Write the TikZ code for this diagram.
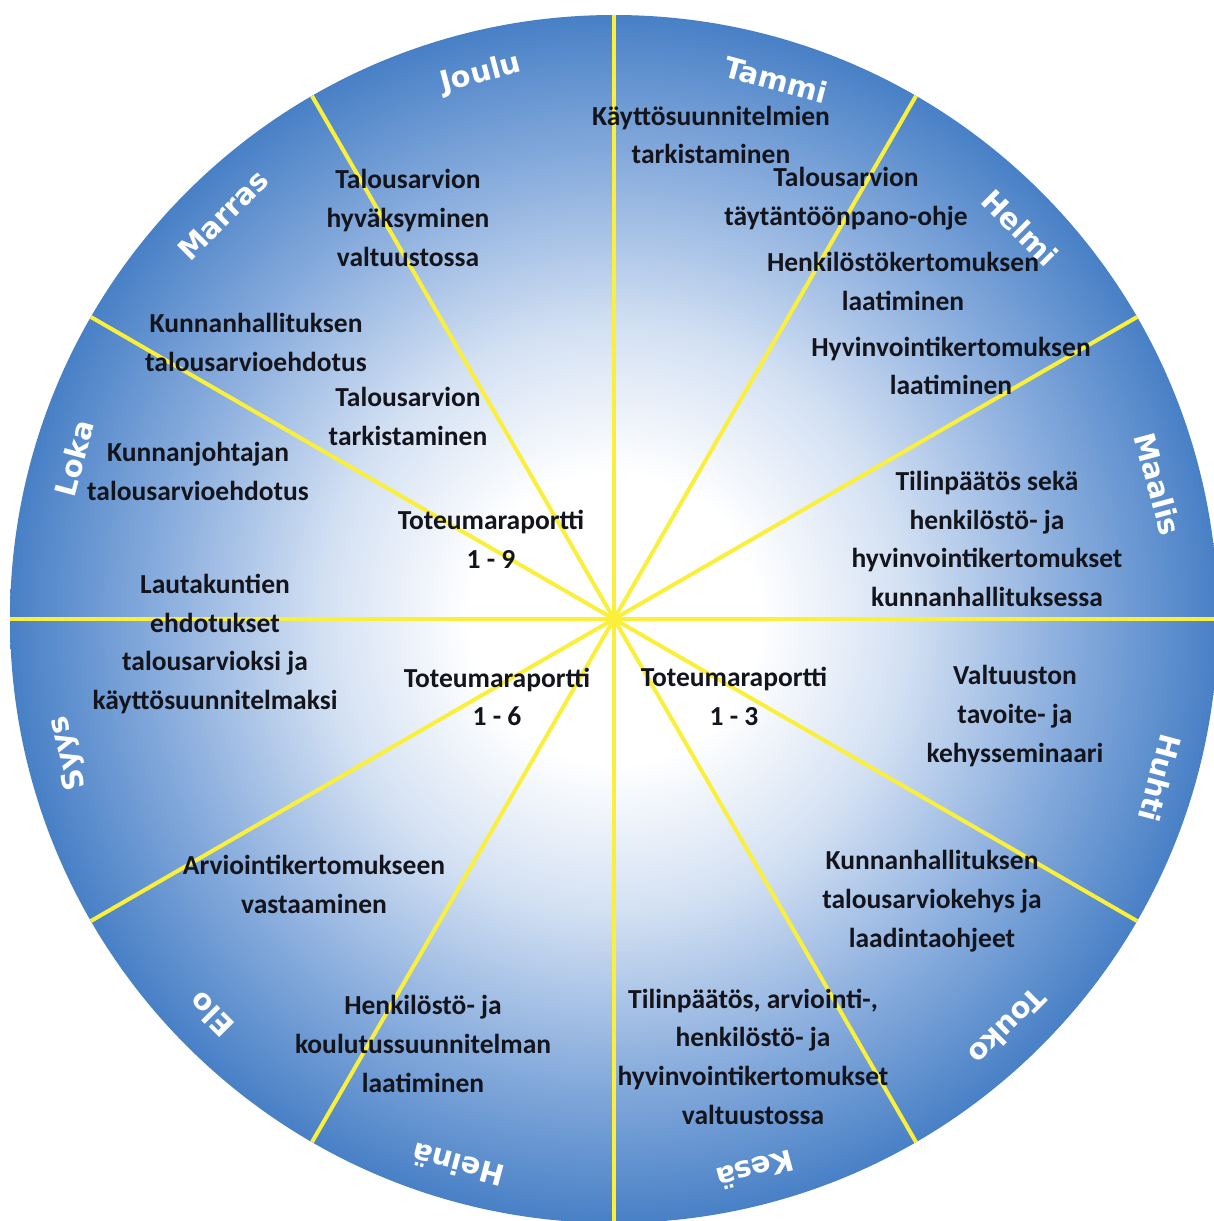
\documentclass[tikz,border=0pt]{standalone}
\usepackage{fontspec}
\setmainfont{Carlito}
\newfontfamily\monthfont{DejaVu Sans}
\definecolor{wA}{RGB}{212,225,243}
\definecolor{wB}{RGB}{140,175,222}
\definecolor{wC}{RGB}{72,128,198}
\definecolor{spokeyellow}{RGB}{250,240,60}
\definecolor{txt}{RGB}{20,20,28}
\pgfdeclareradialshading{wheel}{\pgfpoint{0bp}{0bp}}{color(0bp)=(white); color(6bp)=(white); color(12bp)=(wA); color(18.5bp)=(wB); color(25bp)=(wC); color(50bp)=(wC)}
\begin{document}
\begin{tikzpicture}[x=1pt,y=1pt,
  desc/.style={align=center, font=\bfseries\fontsize{27.5}{38.7}\selectfont, text=txt, inner sep=0pt},
  month/.style={font=\monthfont\bfseries\fontsize{29}{29}\selectfont, text=white, inner sep=0pt},
  spoke/.style={line width=4pt, draw=spokeyellow}]
\fill[white] (0,0) rectangle (1214,-1221);
\useasboundingbox (0,0) rectangle (1214,-1221);
\coordinate (c) at (614,-619);
\shade[shading=wheel] (c) circle (604);
\foreach \a in {0,30,...,330} \draw[spoke] (c) -- ([shift={(\a:604)}]c);
% month labels
\node[month, rotate=-15]  (m1)  at (776,-80)   {Tammi};
\node[month, rotate=-45]  (m2)  at (1020,-228) {Helmi};
\node[month, rotate=-75]  (m3)  at (1158,-484) {Maalis};
\node[month, rotate=-105] (m4)  at (1160,-778) {Huhti};
\node[month, rotate=-135] (m5)  at (1008,-1027) {Touko};
\node[month, rotate=-165] (m6)  at (755,-1170) {Kesä};
\node[month, rotate=165]  (m7)  at (458,-1165) {Heinä};
\node[month, rotate=135]  (m8)  at (211,-1015) {Elo};
\node[month, rotate=105]  (m9)  at (68,-753)   {Syys};
\node[month, rotate=75]   (m10) at (74,-458)   {Loka};
\node[month, rotate=45]   (m11) at (223,-215)  {Marras};
\node[month, rotate=15]   (m12) at (481,-74)   {Joulu};
% descriptions
\node[desc] (t1)  at (711,-135)   {Käyttösuunnitelmien\\tarkistaminen};
\node[desc] (t2)  at (846,-198.5) {Talousarvion\\täytäntöönpano-ohje};
\node[desc] (t3)  at (903,-281.5) {Henkilöstökertomuksen\\laatiminen};
\node[desc] (t4)  at (951,-366)   {Hyvinvointikertomuksen\\laatiminen};
\node[desc] (t5)  at (987,-539)   {Tilinpäätös sekä\\henkilöstö- ja\\hyvinvointikertomukset\\kunnanhallituksessa};
\node[desc] (t6)  at (1015,-716)  {Valtuuston\\tavoite- ja\\kehysseminaari};
\node[desc] (t7)  at (932,-901)   {Kunnanhallituksen\\talousarviokehys ja\\laadintaohjeet};
\node[desc] (t8)  at (753,-1056.5) {Tilinpäätös, arviointi-,\\henkilöstö- ja\\hyvinvointikertomukset\\valtuustossa};
\node[desc] (t9)  at (423,-1044)  {Henkilöstö- ja\\koulutussuunnitelman\\laatiminen};
\node[desc] (t10) at (314,-884.5) {Arviointikertomukseen\\vastaaminen};
\node[desc] (t11) at (215,-644)   {Lautakuntien\\ehdotukset\\talousarvioksi ja\\käyttösuunnitelmaksi};
\node[desc] (t12) at (198,-471.5) {Kunnanjohtajan\\talousarvioehdotus};
\node[desc] (t13) at (256,-342.5) {Kunnanhallituksen\\talousarvioehdotus};
\node[desc] (t14) at (408,-416.5) {Talousarvion\\tarkistaminen};
\node[desc] (t15) at (408,-218)   {Talousarvion\\hyväksyminen\\valtuustossa};
\node[desc] (t16) at (491,-539)   {Toteumaraportti\\1 - 9};
\node[desc] (t17) at (497,-697)   {Toteumaraportti\\1 - 6};
\node[desc] (t18) at (734,-696.5) {Toteumaraportti\\1 - 3};
\end{tikzpicture}
\end{document}
